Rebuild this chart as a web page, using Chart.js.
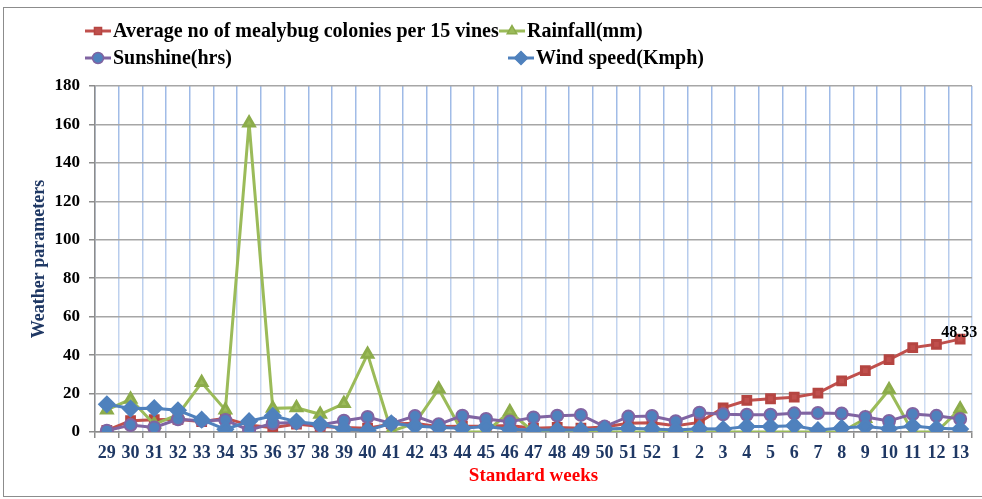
<!DOCTYPE html>
<html>
<head>
<meta charset="utf-8">
<script src="https://cdn.jsdelivr.net/npm/chart.js@4.4.1/dist/chart.umd.min.js"></script>
<style>
  html, body { margin: 0; padding: 0; background: #fff; }
  #wrap { position: absolute; left: 0; top: 0; width: 982px; height: 499px; }
  #frame { position: absolute; left: 3px; top: 7px; width: 990px; height: 490px; border: 1px solid #8c8c8c; box-sizing: border-box; pointer-events: none; }
</style>
</head>
<body>
<div id="wrap">
  <canvas id="c" width="982" height="499"></canvas>
  <div id="frame"></div>
</div>
<script>
const weeks = ['29','30','31','32','33','34','35','36','37','38','39','40','41','42','43','44','45','46','47','48','49','50','51','52','1','2','3','4','5','6','7','8','9','10','11','12','13'];
const mealybug = [0.8,5.9,6.4,6.6,5.4,7.2,3.6,2.2,4.1,2.9,2.3,2.0,4.2,4.5,2.8,3.0,3.0,3.4,2.0,2.4,2.0,2.6,4.5,4.8,3.2,5.0,12.6,16.4,17.3,18.1,20.2,26.6,31.9,37.7,43.9,45.6,48.33];
const rainfall = [11.5,17,4,9,25.7,11.5,160.8,12.3,12.6,9.2,14.8,40.5,0.4,4.5,22.4,0,0,10.5,0,0,0,0,0,0,0,0,0,0,0,0,0,0,7,22,0,0,12];
const sunshine = [0.7,3.6,2.4,6.6,5.9,6.2,1.0,4.5,4.9,3.6,5.9,7.8,4.5,8.3,4.0,8.5,6.8,5.4,7.6,8.5,8.9,2.8,8.0,8.3,5.6,10,9.2,9.0,9.0,9.7,9.9,9.6,7.8,5.7,9.4,8.4,6.8];
const windspeed = [14.4,12.2,12.4,11.3,6.4,1.4,5.6,8.4,5.4,4.0,1.6,0.8,4.5,3.1,2.3,1.9,2.8,1.4,1.0,1.0,1.0,1.5,1.9,1.6,1.0,1.7,1.5,2.9,2.8,3.3,1.0,2.1,2.8,1.7,3.1,1.9,1.5];
const yTicks = [0,20,40,60,80,100,120,140,160,180];
const seriesNames = ['Average no of mealybug colonies per 15 vines','Rainfall(mm)','Sunshine(hrs)','Wind speed(Kmph)'];
const labelledValue = '48.33';

const RED = '#C0504D', GREEN = '#9BBB59', PURPLE = '#8064A2', BLUE = '#4F81BD';
const SERIF = '"Liberation Serif", "Times New Roman", serif';
const NAVY = '#1F3864';

const legendPlugin = {
  id: 'customLegend',
  afterDraw(chart) {
    const ctx = chart.ctx;
    const items = [
      {i:0, x:85, y:31},
      {i:1, x:499, y:31},
      {i:2, x:85, y:58},
      {i:3, x:508, y:58}
    ];
    ctx.save();
    ctx.font = 'bold 20px ' + SERIF;
    ctx.textBaseline = 'middle';
    ctx.textAlign = 'left';
    items.forEach(it => {
      const ds = chart.data.datasets[it.i];
      ctx.strokeStyle = ds.borderColor;
      ctx.lineWidth = 3;
      ctx.beginPath(); ctx.moveTo(it.x, it.y); ctx.lineTo(it.x + 26, it.y); ctx.stroke();
      ctx.fillStyle = ds.pointBackgroundColor;
      ctx.strokeStyle = ds.pointBorderColor;
      ctx.lineWidth = 1.5;
      Chart.helpers.drawPoint(ctx, {pointStyle: ds.pointStyle, radius: ds.pointRadius - 0.5, borderWidth: 1.5}, it.x + 13, it.y);
      ctx.fillStyle = '#000';
      ctx.fillText(seriesNames[it.i], it.x + 28, it.y + 1);
    });
    // data label on last mealybug point
    const meta = chart.getDatasetMeta(0);
    const pt = meta.data[meta.data.length - 1];
    ctx.font = 'bold 16px ' + SERIF;
    ctx.textAlign = 'center';
    ctx.textBaseline = 'bottom';
    ctx.fillStyle = '#000';
    ctx.fillText(labelledValue, pt.x - 1, pt.y + 2);
    ctx.restore();
  }
};

const vGradient = (ctx) => {
  const chart = ctx.chart; const a = chart.chartArea;
  if (!a) return '#B7CBE8';
  const g = chart.ctx.createLinearGradient(0, a.top, 0, a.bottom);
  g.addColorStop(0, '#9DB9E6');
  g.addColorStop(1, '#D3E0F3');
  return g;
};

new Chart(document.getElementById('c'), {
  type: 'line',
  data: {
    labels: weeks,
    datasets: [
      { label: seriesNames[0], data: mealybug, borderColor: RED, backgroundColor: RED, pointBackgroundColor: RED, pointBorderColor: '#B54541', pointStyle: 'rect', pointRadius: 5.5, borderWidth: 3, order: 4 },
      { label: seriesNames[1], data: rainfall, borderColor: GREEN, backgroundColor: GREEN, pointBackgroundColor: GREEN, pointBorderColor: '#8CAC4B', pointStyle: 'triangle', pointRadius: 6, borderWidth: 3, order: 3 },
      { label: seriesNames[2], data: sunshine, borderColor: PURPLE, backgroundColor: BLUE, pointBackgroundColor: BLUE, pointBorderColor: PURPLE, pointStyle: 'circle', pointRadius: 6, pointBorderWidth: 2, borderWidth: 3, order: 2 },
      { label: seriesNames[3], data: windspeed, borderColor: BLUE, backgroundColor: BLUE, pointBackgroundColor: BLUE, pointBorderColor: BLUE, pointStyle: 'rectRot', pointRadius: 7, borderWidth: 3, order: 1 }
    ]
  },
  options: {
    responsive: false,
    animation: false,
    devicePixelRatio: 1,
    layout: { padding: { left: 0, top: 86, right: 10, bottom: 0 } },
    plugins: { legend: { display: false }, tooltip: { enabled: false } },
    elements: { line: { tension: 0 } },
    scales: {
      x: {
        type: 'category',
        offset: true,
        grid: { offset: true, color: vGradient, lineWidth: 1.5, tickColor: '#8c8c8c', tickLength: 6, drawOnChartArea: true },
        border: { color: '#8c8c8c', width: 1.5 },
        ticks: { color: NAVY, font: { family: SERIF, size: 18, weight: 'bold' }, padding: 5, maxRotation: 0, autoSkip: false },
        title: { display: true, text: 'Standard weeks', color: '#FF0000', font: { family: SERIF, size: 19, weight: 'bold' }, padding: { top: 2, bottom: 12 } },
        afterFit(s) { s.height = 67; }
      },
      y: {
        min: 0, max: 180,
        afterBuildTicks(s) { s.ticks = yTicks.map(v => ({ value: v })); },
        grid: { color: '#A6A6A6', lineWidth: 1.5, tickColor: '#8c8c8c', tickLength: 6 },
        border: { color: '#8c8c8c', width: 1.5 },
        ticks: { color: '#000', font: { family: SERIF, size: 17, weight: 'bold' }, padding: 9 },
        title: { display: true, text: 'Weather parameters', color: NAVY, font: { family: SERIF, size: 18, weight: 'bold' }, padding: { top: 29, bottom: 0 } },
        afterFit(s) { s.width = 95; }
      }
    }
  },
  plugins: [legendPlugin]
});
</script>
</body>
</html>
